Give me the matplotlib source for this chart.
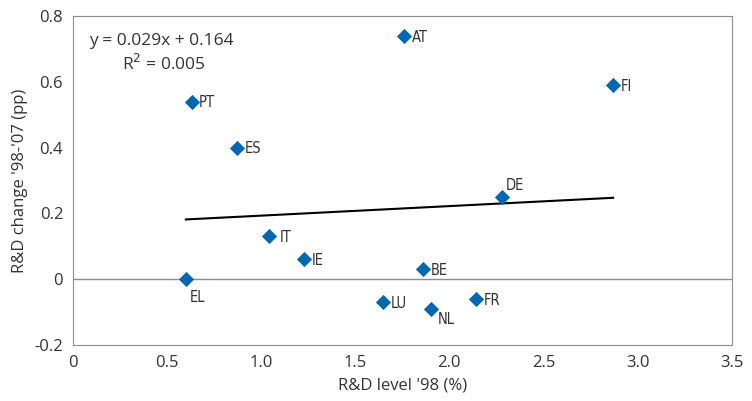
import numpy as np
import matplotlib.pyplot as plt

# R&D level 1998 (%) vs change 1998-2007 (pp)
countries = ['PT', 'ES', 'AT', 'FI', 'DE', 'IT', 'IE', 'EL', 'BE', 'LU', 'NL', 'FR']
rd_level_98 = [0.63, 0.87, 1.76, 2.87, 2.28, 1.04, 1.23, 0.60, 1.86, 1.65, 1.90, 2.14]
rd_change = [0.54, 0.40, 0.74, 0.59, 0.25, 0.13, 0.06, 0.00, 0.03, -0.07, -0.09, -0.06]
slope, intercept = 0.029, 0.164

# label offsets in points (dx, dy)
offsets = {'DE': (3, 8), 'EL': (3, -13), 'NL': (5, -8), 'IT': (8, -1)}

blue = '#0067b1'
txt = '#333333'

fig = plt.figure(figsize=(7.52, 4.01), dpi=100)
ax = fig.add_axes([0.097, 0.14, 0.876, 0.82])

ax.axhline(0, color='#8c8c8c', lw=1, zorder=1)
xs = np.array([min(rd_level_98), max(rd_level_98)])
ax.plot(xs, slope * xs + intercept, color='black', lw=1.5, zorder=2)
ax.scatter(rd_level_98, rd_change, marker='D', s=60, color=blue, zorder=3, linewidths=0)

for c, x, y in zip(countries, rd_level_98, rd_change):
    dx, dy = offsets.get(c, (5.5, -1))
    ax.annotate(c, (x, y), xytext=(dx, dy), textcoords='offset points',
                ha='left', va='center', fontsize=10.5, color=txt,
                family='DejaVu Sans', stretch='condensed')

ax.text(0.025, 0.925, 'y = 0.029x + 0.164', transform=ax.transAxes,
        fontsize=12.5, color=txt, family='Open Sans', va='center')
ax.text(0.075, 0.855, 'R$^2$ = 0.005', transform=ax.transAxes,
        fontsize=12.5, color=txt, family='Open Sans', va='center')

ax.set_xlim(0, 3.5)
ax.set_ylim(-0.2, 0.8)
ax.set_xticks(np.arange(0, 3.51, 0.5))
ax.set_xticklabels(['0', '0.5', '1.0', '1.5', '2.0', '2.5', '3.0', '3.5'])
ax.set_yticks(np.arange(-0.2, 0.81, 0.2))
ax.set_yticklabels(['-0.2', '0', '0.2', '0.4', '0.6', '0.8'])
ax.tick_params(length=0, labelsize=12, labelcolor=txt, pad=7)
for lab in ax.get_xticklabels() + ax.get_yticklabels():
    lab.set_family('Open Sans')
for s in ax.spines.values():
    s.set_color('#8c8c8c')
ax.set_xlabel("R&D level '98 (%)", fontsize=12, color=txt, family='Open Sans', labelpad=5)
ax.set_ylabel("R&D change '98-'07 (pp)", fontsize=12, color=txt, family='Open Sans', labelpad=5)

fig.savefig('out.png', dpi=100)
